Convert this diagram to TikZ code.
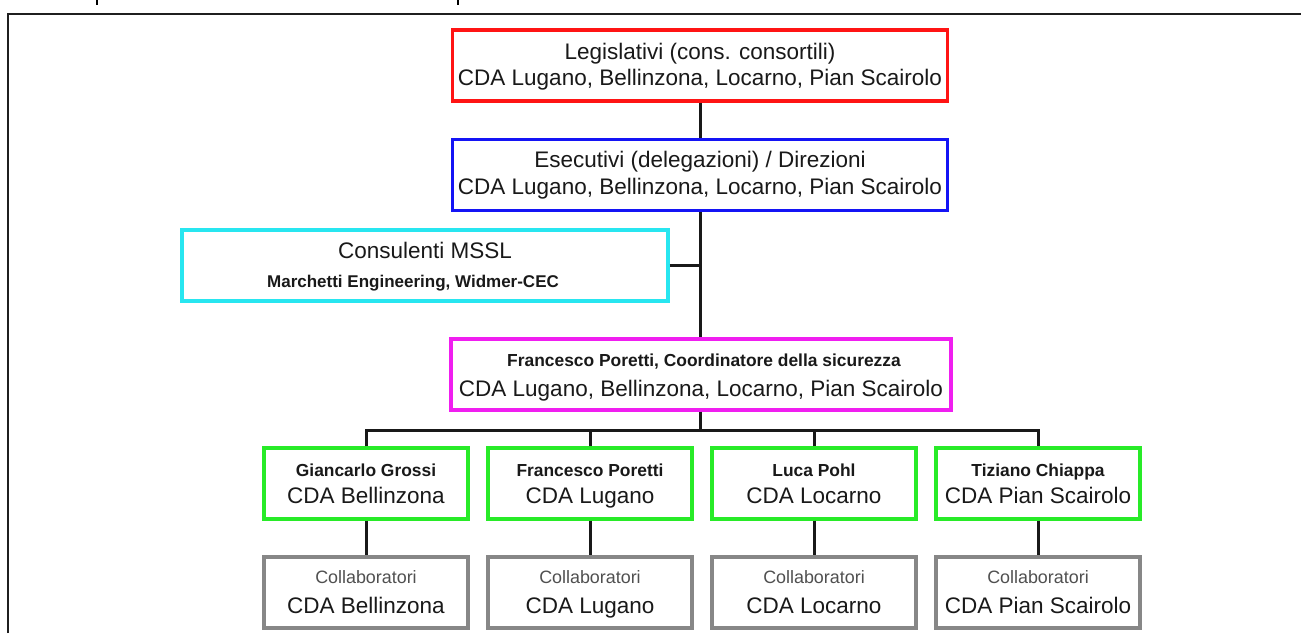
\documentclass[tikz,border=0pt]{standalone}
\usepackage{fontspec}
\setmainfont{Liberation Sans}
\definecolor{cred}{RGB}{255,20,20}
\definecolor{cblue}{RGB}{20,20,245}
\definecolor{ccyan}{RGB}{40,230,240}
\definecolor{cmag}{RGB}{240,30,240}
\definecolor{cgreen}{RGB}{40,235,40}
\definecolor{cgray}{RGB}{135,135,135}
\definecolor{txt}{RGB}{25,25,25}
\definecolor{txtgray}{RGB}{80,80,80}
\tikzset{
  box/.style={draw=#1, line width=3.2pt, minimum width=495pt, minimum height=71pt, inner sep=0pt, fill=white},
  sbox/.style={draw=#1, line width=3.2pt, minimum width=204pt, minimum height=71pt, inner sep=0pt, fill=white},
  big/.style={anchor=base, inner sep=0pt, text=txt, font=\fontsize{22.5}{24}\selectfont},
  smb/.style={anchor=base, inner sep=0pt, text=txt, font=\fontsize{17.4}{20}\selectfont\bfseries},
  col/.style={anchor=base, inner sep=0pt, text=txtgray, font=\fontsize{17.9}{20}\selectfont},
  conn/.style={line width=3pt, draw=black!90},
  frame/.style={line width=2.2pt, draw=black!88},
}
\begin{document}
\begin{tikzpicture}[x=1pt, y=-1pt]
\useasboundingbox (0,0) rectangle (1301,633);
% outer frame
\coordinate (fA) at (8,633);
\coordinate (fB) at (8,14);
\coordinate (fC) at (1301,14);
\draw[frame] (fA) -- (fB) -- (fC);
\coordinate (t1a) at (97,0);
\coordinate (t1b) at (97,5);
\coordinate (t2a) at (458,0);
\coordinate (t2b) at (458,5);
\draw[line width=2.2pt] (t1a) -- (t1b);
\draw[line width=2.2pt] (t2a) -- (t2b);

% boxes
\node[box=cred] (leg) at (700,65.5) {};
\node[box=cblue] (exe) at (700,175) {};
\node[box=ccyan, minimum width=486pt] (cons) at (425,265.5) {};
\node[box=cmag, minimum width=500pt] (coo) at (701,374.5) {};
\node[sbox=cgreen] (g1) at (366,483.5) {};
\node[sbox=cgreen] (g2) at (590,483.5) {};
\node[sbox=cgreen] (g3) at (814,483.5) {};
\node[sbox=cgreen] (g4) at (1038,483.5) {};
\node[sbox=cgray] (c1) at (366,592.5) {};
\node[sbox=cgray] (c2) at (590,592.5) {};
\node[sbox=cgray] (c3) at (814,592.5) {};
\node[sbox=cgray] (c4) at (1038,592.5) {};

% connectors
\coordinate (bus) at (700,430);
\draw[conn] (leg.south) -- (exe.north);
\draw[conn] (exe.south) -- (exe.south |- coo.north);
\draw[conn] (cons.east) -- (cons.east -| exe.south);
\draw[conn] (coo.south -| exe.south) -- (bus);
\draw[conn] (g1.north) |- (bus) -| (g4.north);
\draw[conn] (g2.north) -- (g2.north |- bus);
\draw[conn] (g3.north) -- (g3.north |- bus);
\draw[conn] (g1.south) -- (c1.north);
\draw[conn] (g2.south) -- (c2.north);
\draw[conn] (g3.south) -- (c3.north);
\draw[conn] (g4.south) -- (c4.north);

% texts
\node[big] (leg1) at (700,59) {Legislativi (cons. consortili)};
\node[big] (leg2) at (700,85) {CDA Lugano, Bellinzona, Locarno, Pian Scairolo};
\node[big] (exe1) at (700,167) {Esecutivi (delegazioni) / Direzioni};
\node[big] (exe2) at (700,194) {CDA Lugano, Bellinzona, Locarno, Pian Scairolo};
\node[big] (cons1) at (425,258) {Consulenti MSSL};
\node[smb, font=\fontsize{17}{20}\selectfont\bfseries] (cons2) at (413,287) {Marchetti Engineering, Widmer-CEC};
\node[smb] (coo1) at (704,366) {Francesco Poretti, Coordinatore della sicurezza};
\node[big] (coo2) at (701,396) {CDA Lugano, Bellinzona, Locarno, Pian Scairolo};

\node[smb] (g1a) at (366,476) {Giancarlo Grossi};
\node[big] (g1b) at (366,503) {CDA Bellinzona};
\node[smb] (g2a) at (590,476) {Francesco Poretti};
\node[big] (g2b) at (590,503) {CDA Lugano};
\node[smb] (g3a) at (814,476) {Luca Pohl};
\node[big] (g3b) at (814,503) {CDA Locarno};
\node[smb] (g4a) at (1038,476) {Tiziano Chiappa};
\node[big] (g4b) at (1038,503) {CDA Pian Scairolo};

\node[col] (c1a) at (366,583) {Collaboratori};
\node[big] (c1b) at (366,613) {CDA Bellinzona};
\node[col] (c2a) at (590,583) {Collaboratori};
\node[big] (c2b) at (590,613) {CDA Lugano};
\node[col] (c3a) at (814,583) {Collaboratori};
\node[big] (c3b) at (814,613) {CDA Locarno};
\node[col] (c4a) at (1038,583) {Collaboratori};
\node[big] (c4b) at (1038,613) {CDA Pian Scairolo};
\end{tikzpicture}
\end{document}
